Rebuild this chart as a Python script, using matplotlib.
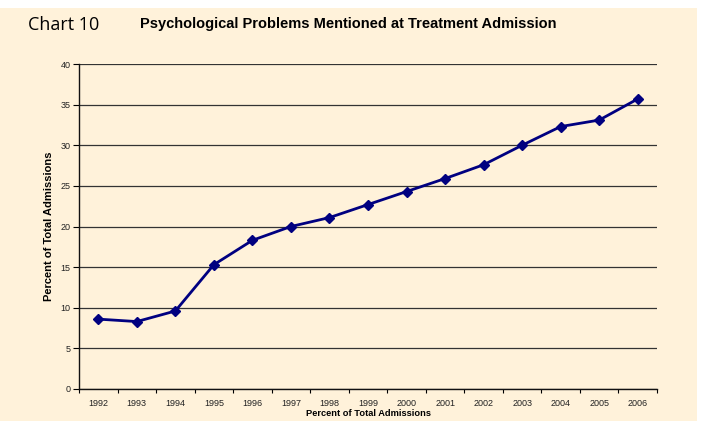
import numpy as np
import matplotlib.pyplot as plt
from matplotlib.patches import Rectangle

years = [str(y) for y in range(1992, 2007)]
percent = [8.6, 8.3, 9.6, 15.3, 18.3, 20.0, 21.1, 22.7, 24.3, 25.9, 27.6, 30.0, 32.3, 33.1, 35.7]
yticks = [0, 5, 10, 15, 20, 25, 30, 35, 40]

cream = "#fff2da"
plt.rcParams["font.family"] = ["Liberation Sans", "DejaVu Sans"]

fig = plt.figure(figsize=(7.07, 4.21), dpi=100)
fig.patch.set_facecolor("white")
fig.patches.append(Rectangle((0, 0), 697 / 707, 413 / 421, transform=fig.transFigure,
                             facecolor=cream, edgecolor="none", zorder=-10))

ax = fig.add_axes([79 / 707, 32 / 421, 578 / 707, 325 / 421])
ax.set_facecolor(cream)

x = np.arange(len(years))
ax.plot(x, percent, color="#000080", linewidth=2.0, marker="D", markersize=5,
        zorder=3)

ax.set_xlim(-0.5, len(years) - 0.5)
ax.set_ylim(0, 40)
ax.set_yticks(yticks)
ax.set_yticklabels([str(v) for v in yticks], fontsize=6.5, color="#222222")
ax.set_xticks(np.arange(len(years) + 1) - 0.5)
ax.set_xticklabels([])
ax.set_xticks(x, minor=True)
ax.set_xticklabels(years, minor=True, fontsize=6.5, color="#222222")
ax.tick_params(axis="x", which="minor", length=0, pad=7)
ax.tick_params(axis="x", which="major", length=3, width=0.8, direction="out")
ax.tick_params(axis="y", length=4, width=0.8, direction="out", pad=2)

ax.grid(axis="y", color="#333333", linewidth=0.9)
ax.set_axisbelow(True)
for side in ["top", "right"]:
    ax.spines[side].set_visible(False)
for side in ["left", "bottom"]:
    ax.spines[side].set_color("#111111")
    ax.spines[side].set_linewidth(1.0)

ax.set_ylabel("Percent of Total Admissions", fontsize=8, fontweight="bold", labelpad=5)
ax.set_xlabel("Percent of Total Admissions", fontsize=6.7, fontweight="bold", labelpad=1)

fig.text(28 / 707, 1 - 25 / 421, "Chart 10", fontsize=13, va="center", ha="left",
         family="Open Sans")
fig.text(140 / 707, 1 - 24 / 421, "Psychological Problems Mentioned at Treatment Admission",
         fontsize=10.5, fontweight="bold", va="center", ha="left")

fig.savefig("out.png", dpi=100, facecolor=fig.get_facecolor())
